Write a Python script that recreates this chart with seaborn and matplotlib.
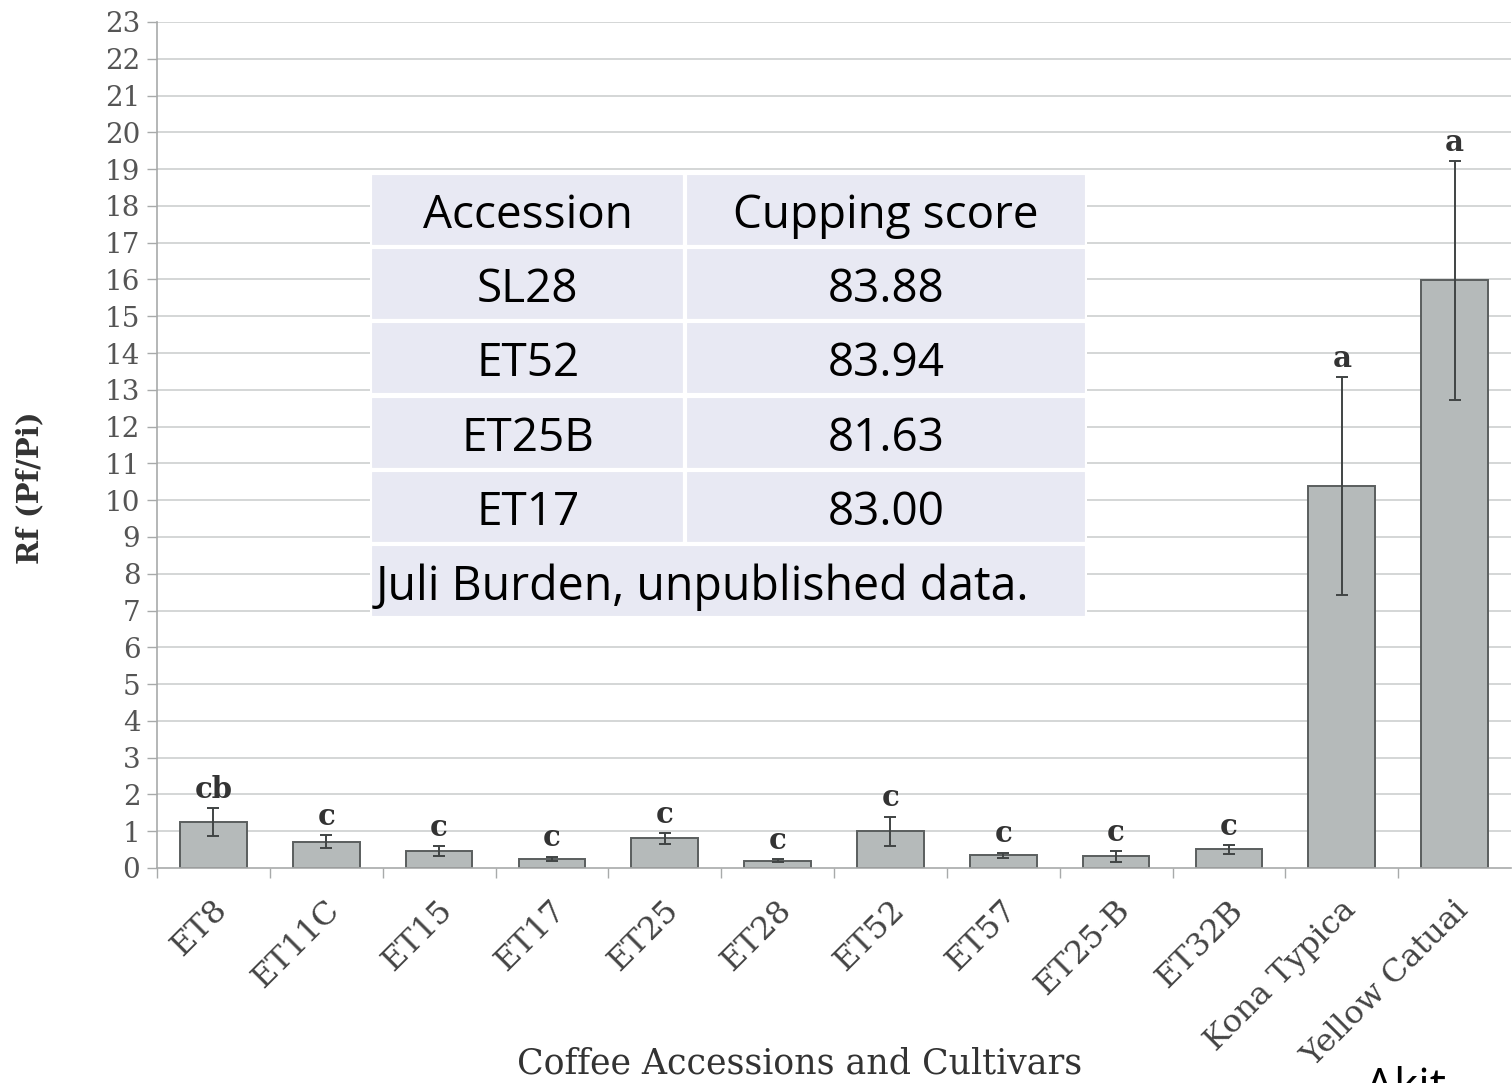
import matplotlib
matplotlib.use("Agg")
import matplotlib.pyplot as plt
import matplotlib.transforms as mtransforms
from matplotlib.patches import Rectangle
import pandas as pd
import seaborn as sns

# Dados do gráfico
cultivares = ["ET8", "ET11C", "ET15", "ET17", "ET25", "ET28", "ET52", "ET57",
              "ET25-B", "ET32B", "Kona Typica", "Yellow Catuai"]
rf_media = [1.25, 0.72, 0.46, 0.25, 0.81, 0.20, 1.00, 0.35, 0.32, 0.51, 10.38, 15.98]
rf_erro = [0.38, 0.17, 0.14, 0.06, 0.15, 0.05, 0.40, 0.07, 0.15, 0.12, 2.97, 3.25]
letras = ["cb", "c", "c", "c", "c", "c", "c", "c", "c", "c", "a", "a"]
y_ticks = list(range(0, 24))

# Tabela sobreposta
acessos = ["SL28", "ET52", "ET25B", "ET17"]
notas = ["83.88", "83.94", "81.63", "83.00"]
cabecalho = ["Accession", "Cupping score"]
rodape = "Juli Burden, unpublished data."

df = pd.DataFrame({"Cultivar": cultivares, "Rf": rf_media, "Erro": rf_erro})

sns.set_style("white")
serif = "DejaVu Serif"
sans = "Open Sans"

fig = plt.figure(figsize=(15.12, 10.83), dpi=100)
ax = fig.add_axes([157 / 1512, 1 - 868 / 1083, 1354 / 1512, 846 / 1083])

ax.set_axisbelow(True)
for t in y_ticks[1:]:
    ax.axhline(t, color="#d4d6d6", linewidth=1.4, zorder=0)

sns.barplot(data=df, x="Cultivar", y="Rf", color="#b5baba", saturation=1,
            edgecolor="#5a5e5e", linewidth=1.4, width=0.59, errorbar=None, ax=ax)
ax.errorbar(range(len(cultivares)), rf_media, yerr=rf_erro, fmt="none",
            ecolor="#404444", elinewidth=1.4, capsize=4.5, capthick=1.4, zorder=3)

for i, (m, e, l) in enumerate(zip(rf_media, rf_erro, letras)):
    ax.annotate(l, (i, m + e), xytext=(0, 3), textcoords="offset points",
                ha="center", va="bottom", fontsize=21, fontweight="bold",
                family=serif, color="#333333")

ax.set_xlim(-0.5, len(cultivares) - 0.5)
ax.set_ylim(0, 23)
ax.set_yticks(y_ticks)
ax.set_yticklabels([str(t) for t in y_ticks], family=serif, fontsize=20, color="#555555")
ax.tick_params(axis="y", left=True, length=7, width=1.0, color="#a8aaaa", pad=5)

ax.set_xticks(range(len(cultivares)))
ax.set_xticklabels(cultivares, rotation=45, ha="right", rotation_mode="anchor",
                   family=serif, fontsize=23, color="#444444")
ax.tick_params(axis="x", which="major", length=0, pad=19)
desloc = mtransforms.ScaledTranslation(-0.02, 0, fig.dpi_scale_trans)
for lab in ax.get_xticklabels():
    lab.set_transform(lab.get_transform() + desloc)
ax.set_xticks([i - 0.5 for i in range(len(cultivares))], minor=True)
ax.tick_params(axis="x", which="minor", bottom=True, length=7, width=1.0, color="#a8aaaa")

for lado in ["top", "right"]:
    ax.spines[lado].set_visible(False)
ax.spines["left"].set_color("#a8aaaa")
ax.spines["bottom"].set_color("#a8aaaa")
ax.spines["left"].set_linewidth(1.2)
ax.spines["bottom"].set_linewidth(1.2)
ax.set_xlabel("")
ax.set_ylabel("")

fig.text(800 / 1512, 1 - 1064 / 1083, "Coffee Accessions and Cultivars",
         ha="center", va="center", family=serif, fontsize=25, color="#333333")
fig.text(30 / 1512, 1 - 488 / 1083, "Rf (Pf/Pi)", rotation=90, ha="center", va="center",
         family=serif, fontsize=21, fontweight="bold", color="#333333")

# Tabela desenhada por cima do gráfico
tab = fig.add_axes([370 / 1512, 1 - 618 / 1083, 717 / 1512, 445 / 1083])
tab.set_xlim(0, 1)
tab.set_ylim(6, 0)
tab.axis("off")
corte = 0.44
fundo = "#e8e9f3"
dy = 0.58
linhas = [cabecalho] + [[a, n] for a, n in zip(acessos, notas)]
for r, (c1, c2) in enumerate(linhas):
    tab.add_patch(Rectangle((0, r), corte, 1, facecolor=fundo, edgecolor="white", linewidth=3))
    tab.add_patch(Rectangle((corte, r), 1 - corte, 1, facecolor=fundo, edgecolor="white", linewidth=3))
    tab.text(corte / 2, r + dy, c1, ha="center", va="center", family=sans, fontsize=33, color="black")
    tab.text((1 + corte) / 2, r + dy, c2, ha="center", va="center", family=sans, fontsize=33, color="black")
tab.add_patch(Rectangle((0, 5), 1, 1, facecolor=fundo, edgecolor="white", linewidth=3))
tab.text(0.008, 5 + dy, rodape, ha="left", va="center", family=sans, fontsize=33.5, color="black")

fig.text(1365 / 1512, 1 - 1066 / 1083, "Akit", ha="left", va="top", family=sans,
         fontsize=33, color="black")

fig.savefig("out.png", dpi=100)
